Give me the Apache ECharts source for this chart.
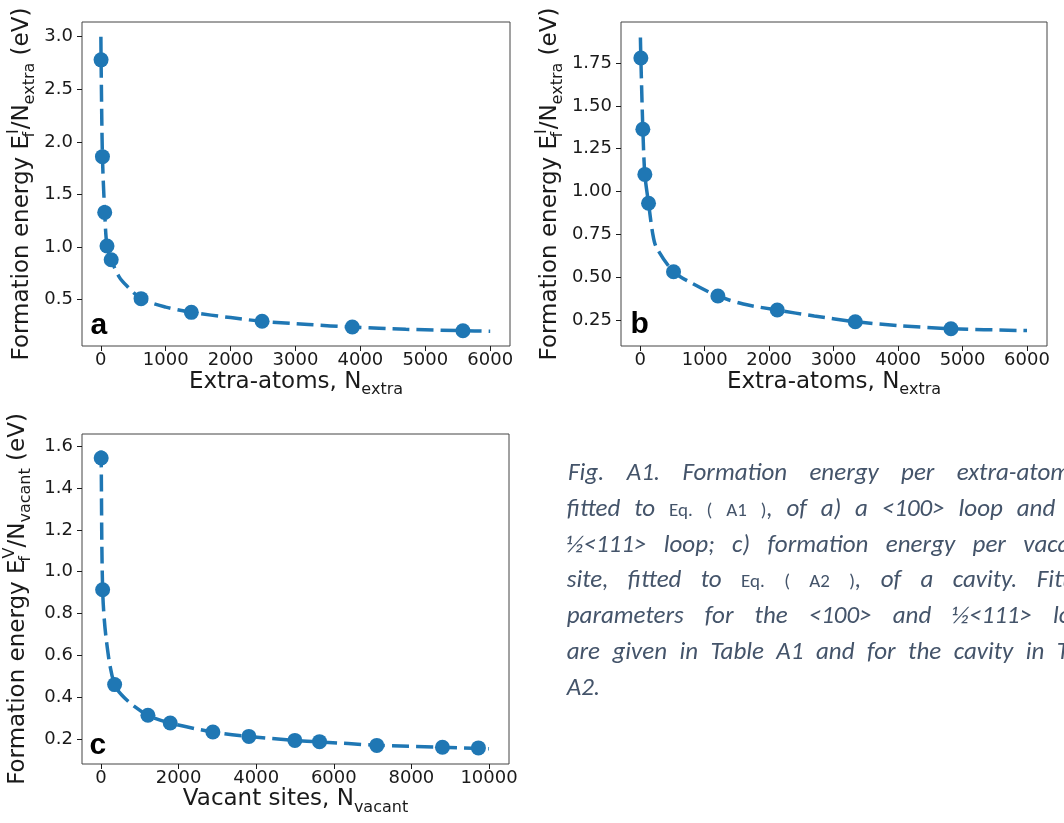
<!DOCTYPE html>
<html><head><meta charset="utf-8">
<script src="https://cdn.jsdelivr.net/npm/echarts@6/dist/echarts.min.js"></script>
<style>html,body{margin:0;padding:0;background:#fff}#c{width:1064px;height:823px}</style>
</head><body><div id="c"></div>
<script>
// ---------- data ----------
const aPointsX = [4, 25, 60, 95, 160, 620, 1395, 2485, 3875, 5580];
const aPointsY = [2.78, 1.86, 1.33, 1.01, 0.88, 0.51, 0.38, 0.295, 0.24, 0.205];
const aFitX = [1, 4, 25, 60, 95, 160, 280, 403, 620, 1000, 1395, 2000, 2485, 3200, 3875, 4700, 5580, 6000];
const aFitY = [3.0, 2.78, 1.86, 1.33, 1.01, 0.88, 0.72, 0.63, 0.51, 0.43, 0.38, 0.33, 0.295, 0.264, 0.24, 0.219, 0.205, 0.2];

const bPointsX = [10, 41, 72, 129, 517, 1205, 2126, 3336, 4820];
const bPointsY = [1.78, 1.364, 1.10, 0.932, 0.532, 0.39, 0.308, 0.24, 0.199];
const bFitX = [3, 10, 41, 72, 129, 196, 250, 517, 800, 1205, 1600, 2126, 2700, 3336, 4000, 4820, 6000];
const bFitY = [1.9, 1.78, 1.364, 1.10, 0.932, 0.75, 0.675, 0.532, 0.465, 0.39, 0.343, 0.308, 0.273, 0.24, 0.217, 0.199, 0.188];

const cPointsX = [5, 43, 352, 1210, 1785, 2884, 3812, 4997, 5632, 7109, 8800, 9727];
const cPointsY = [1.544, 0.914, 0.46, 0.313, 0.276, 0.233, 0.212, 0.193, 0.187, 0.169, 0.16, 0.157];
const cFitX = [1, 5, 43, 137, 352, 700, 1210, 1785, 2884, 3812, 4997, 5632, 7109, 8800, 10000];
const cFitY = [1.58, 1.544, 0.914, 0.675, 0.46, 0.38, 0.313, 0.276, 0.233, 0.212, 0.193, 0.186, 0.17, 0.16, 0.153];

const xTicksAB = [0, 1000, 2000, 3000, 4000, 5000, 6000];
const yTicksA = [0.5, 1.0, 1.5, 2.0, 2.5, 3.0];
const yTicksB = [0.25, 0.5, 0.75, 1.0, 1.25, 1.5, 1.75];
const xTicksC = [0, 2000, 4000, 6000, 8000, 10000];
const yTicksC = [0.2, 0.4, 0.6, 0.8, 1.0, 1.2, 1.4, 1.6];

// ---------- styling ----------
const FONT = '"DejaVu Sans", sans-serif';
const INK = '#1a1a1a';
const BLUE = '#1f77b4';
const CAP = '#44546a';

const rich = {
  t: {fontSize: 23, lineHeight: 32, fontFamily: FONT, color: INK},
  s: {fontSize: 16, lineHeight: 15, verticalAlign: 'bottom', fontFamily: FONT, color: INK},
  f: {fontSize: 16, lineHeight: 15, verticalAlign: 'bottom', width: 1, fontFamily: FONT, color: INK},
  p: {fontSize: 16, lineHeight: 15, verticalAlign: 'top', fontFamily: FONT, color: INK}
};

function pair(xs, ys) { return xs.map((x, i) => [x, ys[i]]); }

function xAx(grid, min, max, ticks, name, gap) {
  return {
    gridIndex: grid, type: 'value', min: min, max: max,
    axisLine: {show: false, onZero: false}, splitLine: {show: false},
    axisTick: {show: true, length: 5, lineStyle: {color: INK, width: 1}, customValues: ticks},
    axisLabel: {customValues: ticks, fontSize: 18, color: INK, fontFamily: FONT, margin: 5,
      formatter: v => String(Math.round(v))},
    name: name, nameLocation: 'middle', nameGap: gap, nameTextStyle: {rich: rich}
  };
}
function yAx(grid, min, max, ticks, digits, name, gap) {
  return {
    gridIndex: grid, type: 'value', min: min, max: max,
    axisLine: {show: false, onZero: false}, splitLine: {show: false},
    axisTick: {show: true, length: 5, lineStyle: {color: INK, width: 1}, customValues: ticks},
    axisLabel: {customValues: ticks, fontSize: 18, color: INK, fontFamily: FONT, margin: 9,
      formatter: v => Number(v).toFixed(digits)},
    name: name, nameLocation: 'middle', nameRotate: 90, nameGap: gap, nameTextStyle: {rich: rich}
  };
}
function fit(i, xs, ys) {
  return {type: 'line', xAxisIndex: i, yAxisIndex: i, data: pair(xs, ys), showSymbol: false,
    smooth: 0.3, lineStyle: {color: BLUE, width: 3.5, type: [17, 7], cap: 'butt'}, z: 2, silent: true};
}
function pts(i, xs, ys) {
  return {type: 'scatter', xAxisIndex: i, yAxisIndex: i, data: pair(xs, ys), symbolSize: 15,
    itemStyle: {color: BLUE, opacity: 1}, z: 3, silent: true};
}

const gridStyle = {show: true, borderColor: '#444', borderWidth: 1, backgroundColor: 'transparent'};

// ---------- caption: justified lines (baseline, first-word x, last-word x, tokens) ----------
// token: [text, small(1) , attached-to-previous(1)]
const capLines = [
  [483, 568, 956.7, [['Fig.'],['A1.'],['Formation'],['energy'],['per'],['extra-atom,']]],
  [519, 566.7, 1016.7, [['fitted'],['to'],['Eq.',1],['(',1],['A1',1],[')',1],[',',0,1],['of'],['a)'],['a'],['<100>'],['loop'],['and']], [['b) a']]],
  [555, 566.7, 1023.3, [['½<111>'],['loop;'],['c)'],['formation'],['energy'],['per'],['vacant']]],
  [590, 566.7, 1036.7, [['site,'],['fitted'],['to'],['Eq.',1],['(',1],['A2',1],[')',1],[',',0,1],['of'],['a'],['cavity.'],['Fitting']]],
  [626, 566.7, 1053, [['parameters'],['for'],['the'],['<100>'],['and'],['½<111>'],['loops']]],
  [662, 566.7, 1056.7, [['are'],['given'],['in'],['Table'],['A1'],['and'],['for'],['the'],['cavity'],['in'],['Table']]],
  [698, 566.7, null, [['A2.']]]
];
const CAPFONT = 'Carlito, Lato, "Open Sans", sans-serif';
const CAPSIZE = 25, SMALLSIZE = 19;
const mctx = document.createElement('canvas').getContext('2d');
function tw(t, f) { mctx.font = f; return mctx.measureText(t).width; }
function capFont(small) { return (small ? '' : 'italic ') + (small ? SMALLSIZE : CAPSIZE) + 'px ' + CAPFONT; }

const graphics = [];
function putText(t, x, base, small) {
  const size = small ? SMALLSIZE : CAPSIZE;
  graphics.push({type: 'text', x: x, y: base - size * 0.387, silent: true,
    style: {text: t, fill: CAP, font: capFont(small),
      textAlign: 'left', textVerticalAlign: 'middle', align: 'left', verticalAlign: 'middle'}});
}
capLines.forEach(([base, x0, xLast, toks, tail]) => {
  const widths = toks.map(t => tw(t[0], capFont(t[1] === 1)));
  let gap = tw(' ', capFont(false));
  if (xLast != null && toks.length > 1) {
    let used = 0, nGaps = 0;
    for (let i = 0; i < toks.length - 1; i++) { used += widths[i]; }
    for (let i = 1; i < toks.length; i++) { if (toks[i][2] !== 1) nGaps++; }
    gap = (xLast - x0 - used) / nGaps;
  }
  let x = x0;
  toks.forEach((t, i) => {
    if (i > 0) x += widths[i - 1] + (t[2] === 1 ? 0 : gap);
    putText(t[0], x, base, t[1] === 1);
  });
  if (tail) {
    x += widths[widths.length - 1] + gap;
    tail.forEach(t => putText(t[0], x, base, false));
  }
});
const panelLetters = [['a', 90.5, 326], ['b', 630.5, 324.6], ['c', 89.5, 746]];
panelLetters.forEach(([t, x, y]) => {
  graphics.push({type: 'text', x: x, y: y, silent: true, z: 10,
    style: {text: t, fill: '#000', font: 'bold 30px "Liberation Sans", Arial, sans-serif',
      textAlign: 'left', textVerticalAlign: 'middle', align: 'left', verticalAlign: 'middle'}});
});

const chart = echarts.init(document.getElementById('c'), null, {renderer: 'canvas'});
chart.setOption({
  animation: false,
  backgroundColor: '#fff',
  grid: [
    Object.assign({left: 82, top: 22, width: 428, height: 324}, gridStyle),
    Object.assign({left: 621, top: 22, width: 426, height: 324}, gridStyle),
    Object.assign({left: 82, top: 434, width: 427, height: 330}, gridStyle)
  ],
  xAxis: [
    xAx(0, -290, 6305, xTicksAB, '{t|Extra-atoms, N}{s|extra}', 19.6),
    xAx(1, -298, 6310, xTicksAB, '{t|Extra-atoms, N}{s|extra}', 19.6),
    xAx(2, -489, 10515, xTicksC, '{t|Vacant sites, N}{s|vacant}', 17.6)
  ],
  yAxis: [
    yAx(0, 0.06, 3.14, yTicksA, 1, '{t|Formation energy E}{f|f}{p|I}{t|/N}{s|extra}{t| (eV)}', 44.4),
    yAx(1, 0.098, 1.99, yTicksB, 2, '{t|Formation energy E}{f|f}{p|I}{t|/N}{s|extra}{t| (eV)}', 55.1),
    yAx(2, 0.08, 1.659, yTicksC, 1, '{t|Formation energy E}{f|f}{p|V}{t|/N}{s|vacant}{t| (eV)}', 47.8)
  ],
  series: [
    fit(0, aFitX, aFitY), pts(0, aPointsX, aPointsY),
    fit(1, bFitX, bFitY), pts(1, bPointsX, bPointsY),
    fit(2, cFitX, cFitY), pts(2, cPointsX, cPointsY)
  ],
  graphic: graphics
});
</script></body></html>
